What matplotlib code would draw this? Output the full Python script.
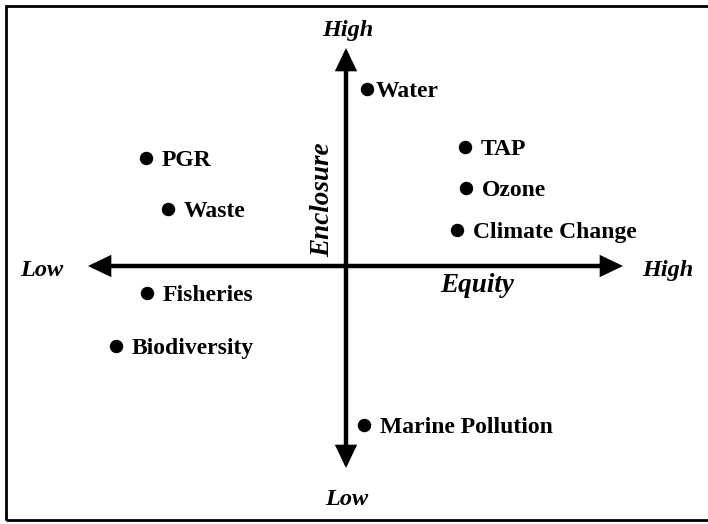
import matplotlib.pyplot as plt
from matplotlib.patches import Rectangle

# item positions relative to the axis crossing (x = equity, y = enclosure)
ITEMS = ["Water", "PGR", "Waste", "TAP", "Ozone", "Climate Change",
         "Fisheries", "Biodiversity", "Marine Pollution"]
EQUITY = [21, -200, -178, 119, 120, 111, -199, -230, 18]
ENCLOSURE = [177, 108, 57, 119, 78, 36, -27, -80, -159]

X_EXTENT = (-258, 277)
Y_EXTENT = (-202, 218)

plt.rcParams["font.family"] = ["Liberation Serif", "DejaVu Serif"]

fig = plt.figure(figsize=(7.08, 5.24), dpi=100)
ax = fig.add_axes([0, 0, 1, 1])
ax.set_xlim(-346, 362)
ax.set_ylim(-258, 266)
ax.axis("off")

# frame (right side runs off the canvas)
fig.add_artist(Rectangle((6 / 708, 4 / 524), 1.2, 514 / 524, transform=fig.transFigure,
                         fill=False, edgecolor="black", linewidth=2.0, clip_on=False))

arrow = dict(arrowstyle="-|>,head_length=0.5,head_width=0.24", color="black",
             lw=3.2, mutation_scale=23, shrinkA=0, shrinkB=0, joinstyle="miter")
ax.annotate("", xy=(X_EXTENT[1], 0), xytext=(0, 0), arrowprops=arrow)
ax.annotate("", xy=(X_EXTENT[0], 0), xytext=(0, 0), arrowprops=arrow)
ax.annotate("", xy=(0, Y_EXTENT[1]), xytext=(0, 0), arrowprops=arrow)
ax.annotate("", xy=(0, Y_EXTENT[0]), xytext=(0, 0), arrowprops=arrow)

ax.scatter(EQUITY, ENCLOSURE, s=75, color="black", zorder=3)
for name, x, y in zip(ITEMS, EQUITY, ENCLOSURE):
    gap = 6.5 if name == "Water" else 11.5
    ax.annotate(name, (x, y), xytext=(gap, 0), textcoords="offset points",
                ha="left", va="center_baseline", fontsize=17, fontweight="bold")

end_style = dict(fontsize=17.5, fontweight="bold", style="italic",
                 ha="center", va="center_baseline")
ax.text(2, 238, "High", **end_style)
ax.text(1, -231, "Low", **end_style)
ax.text(-304, -2, "Low", **end_style)
ax.text(322, -2, "High", **end_style)

ax.text(131, -20, "Equity", fontsize=19.5, fontweight="bold", style="italic",
        ha="center", va="center")
ax.text(-23, 66, "Enclosure", fontsize=19.5, fontweight="bold", style="italic",
        ha="center", va="center", rotation=90)

fig.savefig("out.png", dpi=100)
